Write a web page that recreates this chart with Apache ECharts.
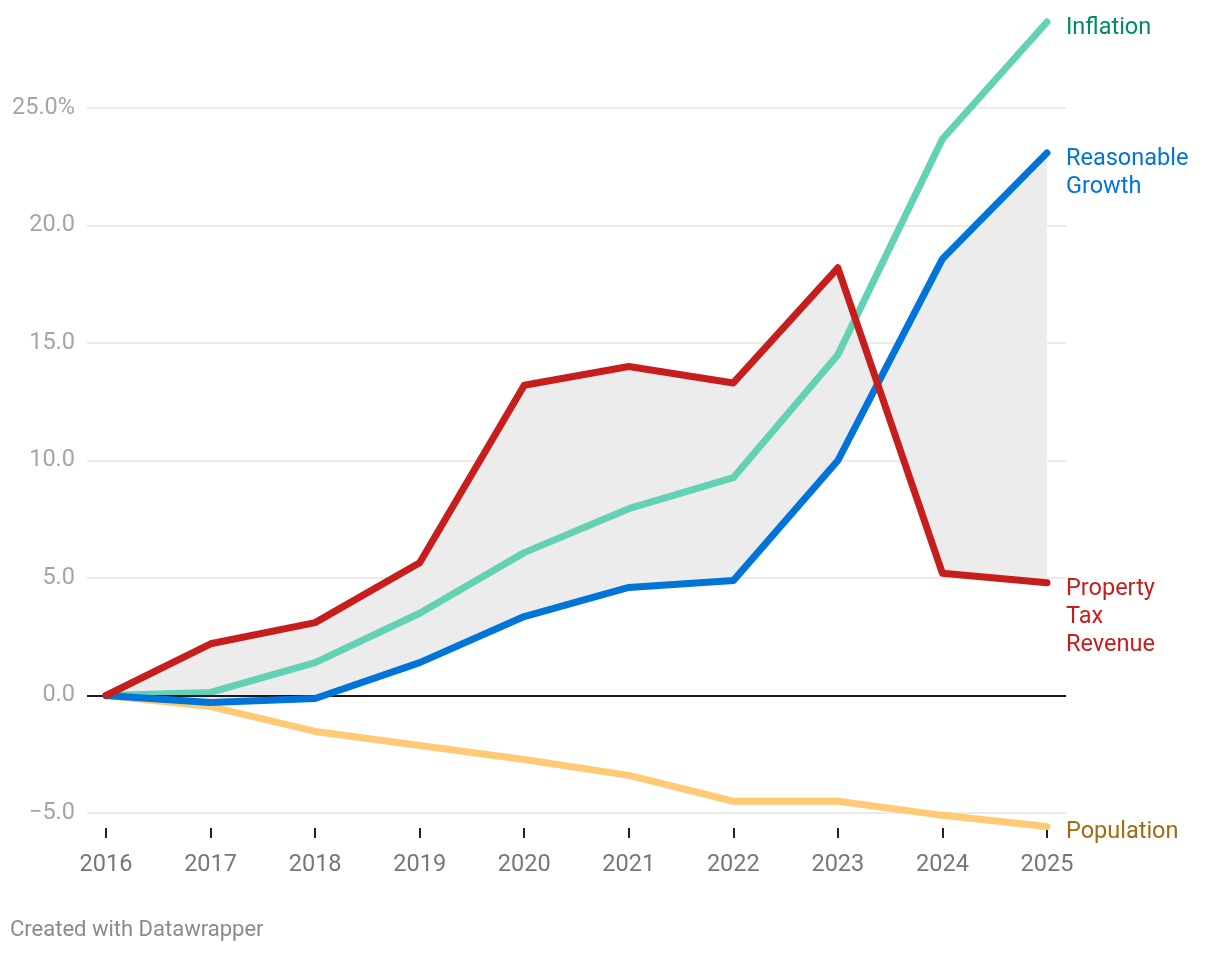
<!DOCTYPE html>
<html>
<head>
<meta charset="utf-8">
<style>
html,body{margin:0;padding:0;background:#fff;}
#chart{width:1220px;height:954px;}
</style>
<script src="https://cdn.jsdelivr.net/npm/echarts@6/dist/echarts.min.js"></script>
</head>
<body>
<div id="chart"></div>
<script>
const years = [2016, 2017, 2018, 2019, 2020, 2021, 2022, 2023, 2024, 2025];
const propertyTax = [0, 2.2, 3.1, 5.65, 13.2, 14.0, 13.3, 18.2, 5.2, 4.8];
const inflation = [0, 0.13, 1.4, 3.5, 6.08, 7.95, 9.27, 14.5, 23.68, 28.66];
const reasonableGrowth = [0, -0.3, -0.13, 1.4, 3.36, 4.6, 4.89, 10.0, 18.58, 23.09];
const population = [0, -0.47, -1.53, -2.13, -2.72, -3.4, -4.5, -4.5, -5.1, -5.57];

const FONT = 'Roboto, "Noto Sans", sans-serif';
const pair = arr => years.map((y, i) => [y, arr[i]]);

const chart = echarts.init(document.getElementById('chart'));

function lineSeries(name, arr, color, labelText, labelColor, z) {
  return {
    name: name,
    type: 'line',
    data: pair(arr),
    symbol: 'none',
    clip: false,
    z: z,
    lineStyle: { color: color, width: 7, cap: 'round', join: 'round' },
    endLabel: {
      show: true,
      formatter: labelText,
      color: labelColor,
      fontFamily: FONT,
      fontSize: 23.5,
      lineHeight: 28,
      distance: 19,
      align: 'left',
      verticalAlign: 'top',
      offset: [0, -8]
    },
    emphasis: { disabled: true }
  };
}

const option = {
  animation: false,
  backgroundColor: '#ffffff',
  grid: { left: 87, right: 154, top: 108, bottom: 141, containLabel: false },
  xAxis: {
    type: 'value',
    min: v => 2016 - 0.182,
    max: v => 2025 + 0.182,
    offset: 15,
    axisLine: { show: false, onZero: false },
    axisTick: { show: true, length: 10, customValues: years, lineStyle: { color: '#222', width: 2 } },
    axisLabel: {
      customValues: years,
      color: '#777777',
      fontFamily: FONT,
      fontSize: 23.5,
      margin: 25,
      formatter: v => String(v)
    },
    splitLine: { show: false }
  },
  yAxis: {
    type: 'value',
    min: -5,
    max: 25,
    interval: 5,
    axisLine: { show: false },
    axisTick: { show: false },
    axisLabel: {
      color: '#a5a5a5',
      fontFamily: FONT,
      fontSize: 23.5,
      margin: 12,
      padding: [6, 0, 0, 0],
      formatter: v => {
        const s = Math.abs(v).toFixed(1);
        if (v === 25) return s + '%';
        return (v < 0 ? '\u2212' : '') + s;
      }
    },
    splitLine: { show: true, lineStyle: { color: '#e3e3e3', width: 1.5 } }
  },
  series: [
    {
      type: 'custom',
      z: 1,
      clip: false,
      data: [[0]],
      renderItem: function (params, api) {
        const pts = [];
        for (let i = 0; i < years.length; i++) pts.push(api.coord([years[i], propertyTax[i]]));
        for (let i = years.length - 1; i >= 0; i--) pts.push(api.coord([years[i], reasonableGrowth[i]]));
        return { type: 'polygon', shape: { points: pts }, style: { fill: '#ececec' } };
      },
      silent: true
    },
    {
      type: 'line',
      data: [],
      z: 2,
      markLine: {
        silent: true,
        symbol: 'none',
        label: { show: false },
        lineStyle: { color: '#1a1a1a', width: 2, type: 'solid' },
        data: [{ yAxis: 0 }]
      }
    },
    lineSeries('Population', population, '#ffca76', 'Population', '#9c6d12', 3),
    lineSeries('Inflation', inflation, '#63d1b3', 'Inflation', '#008a67', 4),
    lineSeries('Reasonable Growth', reasonableGrowth, '#0074d9', 'Reasonable\nGrowth', '#0074d9', 5),
    lineSeries('Property Tax Revenue', propertyTax, '#c71e1d', 'Property\nTax\nRevenue', '#c71e1d', 6)
  ],
  graphic: [
    {
      type: 'text',
      left: 10,
      top: 919,
      style: { text: 'Created with Datawrapper', fill: '#8a8a8a', font: '22px Roboto, "Noto Sans", sans-serif' }
    }
  ]
};

chart.setOption(option);
</script>
</body>
</html>
